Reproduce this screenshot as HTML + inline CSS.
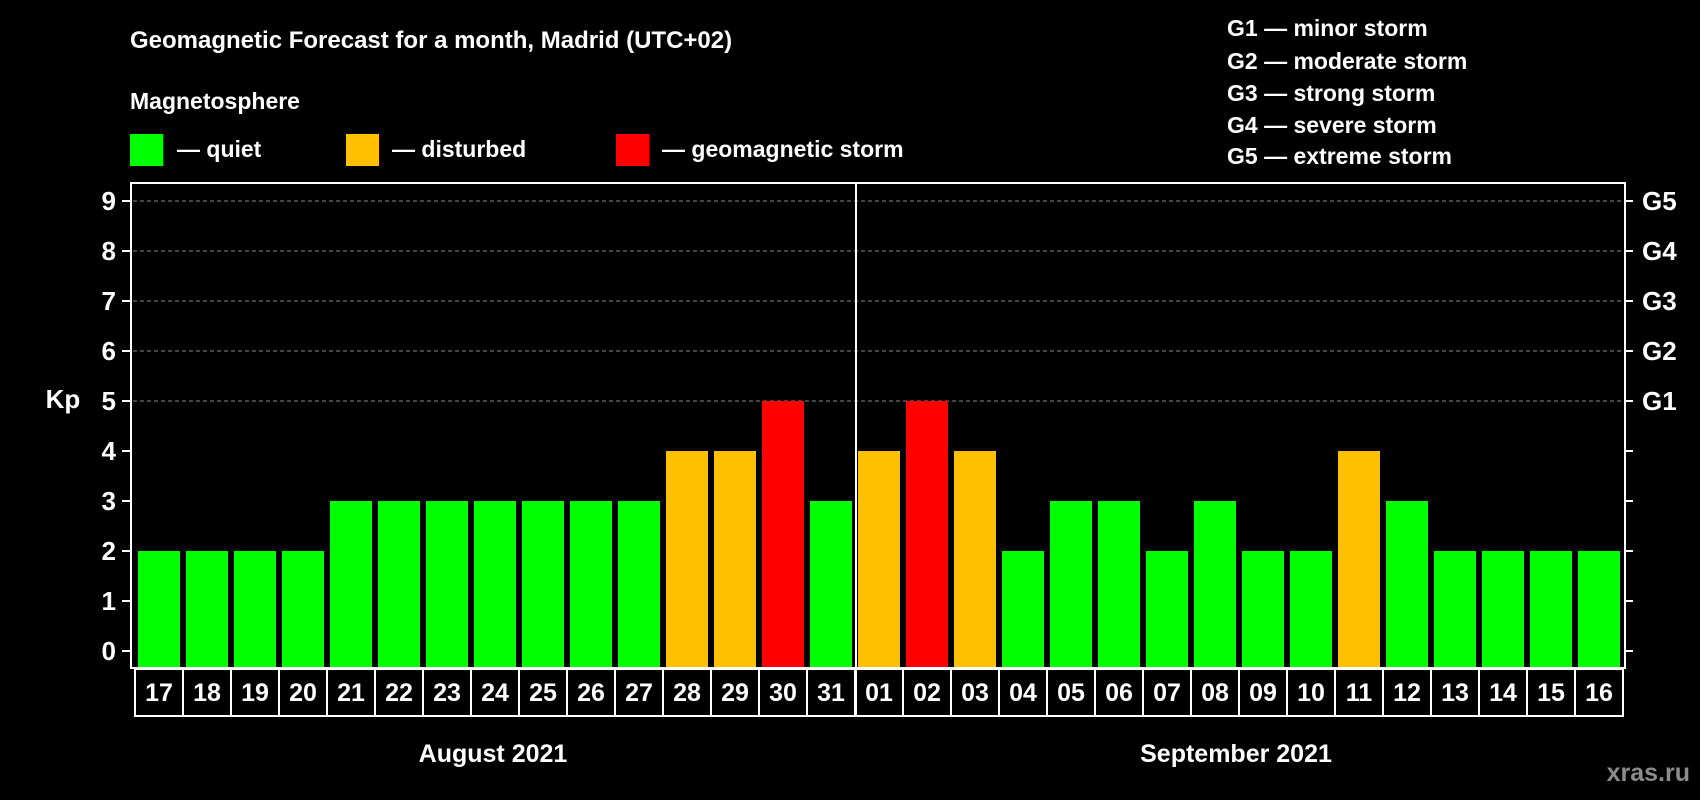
<!DOCTYPE html>
<html><head><meta charset="utf-8"><style>
body{margin:0;background:#000;}
svg{display:block;font-family:"Liberation Sans",Arial,sans-serif;font-weight:bold;}
</style></head><body>
<svg id="c" width="1700" height="800" viewBox="0 0 1700 800">
<rect width="1700" height="800" fill="#000"/>
<text x="130" y="48" fill="#fff" font-size="24">Geomagnetic Forecast for a month, Madrid (UTC+02)</text>
<text x="130" y="109" fill="#fff" font-size="23">Magnetosphere</text>
<g><rect x="130" y="134" width="33" height="32" fill="#00ff00"/><text x="177" y="157" fill="#fff" font-size="23">— quiet</text></g>
<g><rect x="346" y="134" width="33" height="32" fill="#ffc000"/><text x="392" y="157" fill="#fff" font-size="23">— disturbed</text></g>
<g><rect x="616" y="134" width="33" height="32" fill="#ff0000"/><text x="662" y="157" fill="#fff" font-size="23">— geomagnetic storm</text></g>
<g fill="#fff" font-size="23">
<text x="1227" y="36">G1 — minor storm</text>
<text x="1227" y="69">G2 — moderate storm</text>
<text x="1227" y="101">G3 — strong storm</text>
<text x="1227" y="133">G4 — severe storm</text>
<text x="1227" y="164">G5 — extreme storm</text>
</g>
<g id="grid"></g>
<g id="bars"></g>
<rect x="131" y="183" width="1494" height="485" fill="none" stroke="#fff" stroke-width="2"/>
<line x1="856" y1="183" x2="856" y2="717" stroke="#fff" stroke-width="2"/>
<g id="axes"></g>
<text x="63" y="408" fill="#fff" font-size="26" text-anchor="middle">Kp</text>
<text x="493" y="762" fill="#fff" font-size="25" text-anchor="middle">August 2021</text>
<text x="1236" y="762" fill="#fff" font-size="25" text-anchor="middle">September 2021</text>
<text x="1690" y="781" fill="#8c8c8c" font-size="25" text-anchor="end">xras.ru</text>
</svg>
<script>
const days=["17","18","19","20","21","22","23","24","25","26","27","28","29","30","31","01","02","03","04","05","06","07","08","09","10","11","12","13","14","15","16"];
const kpValues=[2,2,2,2,3,3,3,3,3,3,3,4,4,5,3,4,5,4,2,3,3,2,3,2,2,4,3,2,2,2,2];
const yTicks=[0,1,2,3,4,5,6,7,8,9];
const gLabels=["G1","G2","G3","G4","G5"];
const NS="http://www.w3.org/2000/svg";
const y=v=>651-v*50;
const x=i=>135+i*48;
function mk(t,a,p){const e=document.createElementNS(NS,t);for(const k in a)e.setAttribute(k,a[k]);p.appendChild(e);return e;}
const col=v=>v>=5?"#ff0000":v>=4?"#ffc000":"#00ff00";
const grid=document.getElementById('grid'),bars=document.getElementById('bars'),axes=document.getElementById('axes');
yTicks.forEach(v=>{
 if(v>=5){const l=mk('line',{x1:133,x2:1623,y1:y(v),y2:y(v),stroke:'#8a8a8a','stroke-width':1,'stroke-dasharray':'4,3'},grid);
 
 }
 const t=mk('line',{x1:122,x2:131,y1:y(v),y2:y(v),stroke:'#fff','stroke-width':2},axes);
 
 
 const t2=mk('line',{x1:1625,x2:1633,y1:y(v),y2:y(v),stroke:'#fff','stroke-width':2},axes);
 
 
 const lb=mk('text',{x:116,y:y(v)+9,fill:'#fff','font-size':26,'text-anchor':'end'},axes);
 lb.textContent=v;
 
 
});
gLabels.forEach((g,i)=>{
 const lb=mk('text',{x:1642,y:y(5+i)+9,fill:'#fff','font-size':26},axes);
 lb.textContent=g;
 
 
});
kpValues.forEach((v,i)=>{
 const r=mk('rect',{x:x(i)+3,y:y(v),width:42,height:667-y(v),fill:col(v)},bars);
 
 
 const b=mk('rect',{x:x(i),y:669,width:48,height:47,fill:'none',stroke:'#fff','stroke-width':2},axes);
 
 
 const t=mk('text',{x:x(i)+24,y:701,fill:'#fff','font-size':25,'text-anchor':'middle'},axes);
 t.textContent=days[i];
 
 
});
</script>
</body></html>
